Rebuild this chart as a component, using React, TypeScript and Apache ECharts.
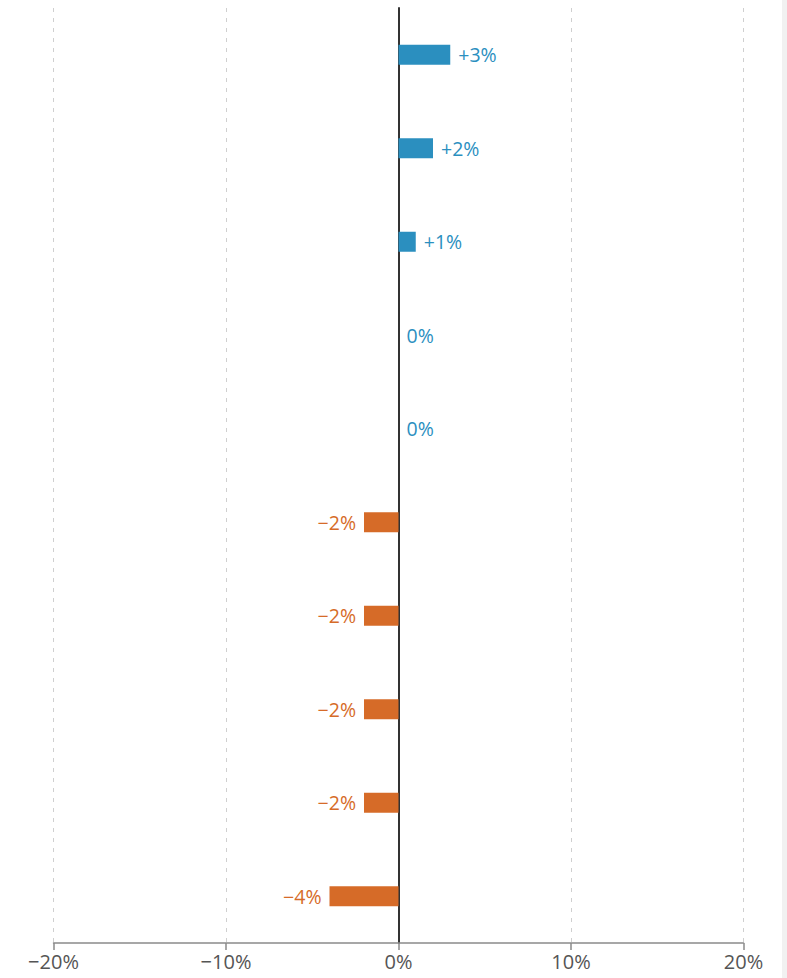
import React, { useEffect, useRef } from "react";
import * as echarts from "echarts";

const categories = ["A", "B", "C", "D", "E", "F", "G", "H", "I", "J"];
const values = [3, 2, 1, 0, 0, -2, -2, -2, -2, -4];
const axisTicks = [-20, -10, 0, 10, 20];

const BLUE = "#2b8fbf";
const ORANGE = "#d66b28";

const fmtPct = (v: number, sign: boolean) => {
  if (v < 0) return "\u2212" + Math.abs(v) + "%";
  if (v > 0 && sign) return "+" + v + "%";
  return v + "%";
};

export default function App() {
  const ref = useRef<HTMLDivElement>(null);
  useEffect(() => {
    document.body.style.margin = "0";
    const chart = echarts.init(ref.current!, null, { renderer: "svg" });
    chart.setOption({
      animation: false,
      textStyle: { fontFamily: "Open Sans" },
      grid: { left: 53.5, width: 690, top: 8, height: 935, containLabel: false },
      xAxis: {
        type: "value",
        min: axisTicks[0],
        max: axisTicks[axisTicks.length - 1],
        interval: 10,
        axisLine: { show: true, lineStyle: { color: "#8a8a8a", width: 1.5 } },
        axisTick: { show: true, length: 7, lineStyle: { color: "#8a8a8a", width: 1.5 } },
        axisLabel: {
          color: "#555",
          fontSize: 20,
          margin: 8,
          formatter: (v: number) => fmtPct(v, false),
        },
        splitLine: { show: true, lineStyle: { color: "#cfcfcf", type: [4, 6], width: 1 } },
      },
      yAxis: {
        type: "category",
        data: categories,
        inverse: true,
        axisLine: { show: true, onZero: true, lineStyle: { color: "#333", width: 2 } },
        axisTick: { show: false },
        axisLabel: { show: false },
        splitLine: { show: false },
      },
      series: [
        {
          type: "bar",
          barWidth: 20,
          data: values.map((v) => ({
            value: v,
            itemStyle: { color: v < 0 ? ORANGE : BLUE },
            label: {
              show: true,
              position: v < 0 ? "left" : "right",
              distance: 8,
              color: v < 0 ? ORANGE : BLUE,
              fontSize: 19.5,
              formatter: () => fmtPct(v, true),
            },
          })),
        },
      ],
      graphic: [
        { type: "rect", left: 782, top: 0, shape: { width: 5, height: 978 }, style: { fill: "#f1f1f1" }, z: -1 },
      ],
    });
    return () => chart.dispose();
  }, []);
  return <div ref={ref} style={{ width: 787, height: 978 }} />;
}
